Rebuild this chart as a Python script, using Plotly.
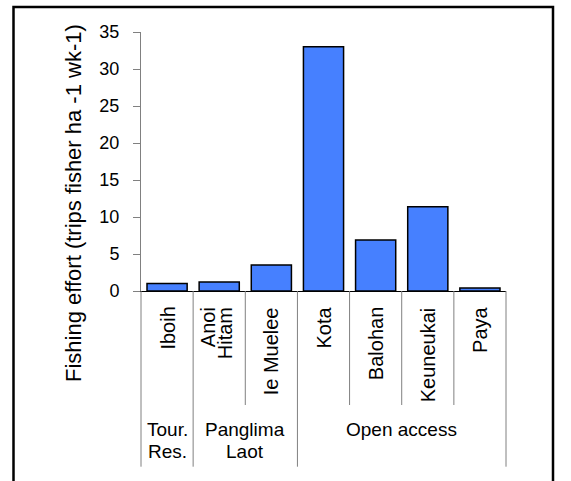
import plotly.graph_objects as go

# ---- data ----
sites = ["Iboih", "Anoi Hitam", "Ie Muelee", "Kota", "Balohan", "Keuneukai", "Paya"]
effort = [1.0, 1.2, 3.5, 33.0, 6.9, 11.4, 0.4]
site_label_lines = [["Iboih"], ["Anoi", "Hitam"], ["Ie Muelee"], ["Kota"],
                    ["Balohan"], ["Keuneukai"], ["Paya"]]
group_names = [["Tour.", "Res."], ["Panglima", "Laot"], ["Open access"]]
group_sizes = [1, 2, 4]
y_ticks = [0, 5, 10, 15, 20, 25, 30, 35]
y_title = "Fishing effort (trips fisher ha -1 wk-1)"

# ---- layout geometry (pixels) ----
W, H = 571, 481
ML, MR, MT, MB = 141, 65, 32, 190
PW = W - ML - MR
PH = H - MT - MB
FONT = "Liberation Sans, Arial, sans-serif"


def pxx(p):
    return (p - ML) / PW


def pxy(p):
    return (H - MB - p) / PH


fig = go.Figure()
fig.add_trace(go.Bar(
    x=list(range(len(sites))), y=effort,
    marker=dict(color="#4680FF", line=dict(color="black", width=1.5)),
    hoverinfo="skip", showlegend=False,
))

shapes = []
annotations = []

# category label dividers
n = len(sites)
group_bounds = [0]
for s in group_sizes:
    group_bounds.append(group_bounds[-1] + s)
for b in range(n + 1):
    is_group = b in group_bounds
    y1 = pxy(466.7) if is_group else pxy(405)
    if b == 0 or b == n:
        shapes.append(dict(type="line", xref="x domain", yref="paper",
                           x0=0 if b == 0 else 1, x1=0 if b == 0 else 1,
                           y0=0, y1=y1, line=dict(color="#808080", width=1)))
    else:
        shapes.append(dict(type="line", xref="x", yref="paper",
                           x0=b - 0.5, x1=b - 0.5, y0=0, y1=y1,
                           line=dict(color="#808080", width=1)))

# site labels (rotated)
for i, lines in enumerate(site_label_lines):
    shifts = [0] if len(lines) == 1 else [-11, 6]
    for line, sh in zip(lines, shifts):
        annotations.append(dict(
            x=i, y=pxy(305), xref="x", yref="paper", text=line,
            textangle=-90, showarrow=False, xanchor="center", yanchor="top",
            xshift=sh, font=dict(family=FONT, size=20, color="black")))

# group labels
for g, lines in enumerate(group_names):
    start, end = group_bounds[g], group_bounds[g + 1] - 1
    xc = (start + end) / 2
    for k, line in enumerate(lines):
        annotations.append(dict(
            x=xc, y=pxy(429.7 + 21.6 * k), xref="x", yref="paper", text=line,
            showarrow=False, xanchor="center", yanchor="middle",
            font=dict(family=FONT, size=19, color="black")))

# y-axis title
annotations.append(dict(
    x=pxx(73), y=pxy(203), xref="paper", yref="paper", text=y_title,
    textangle=-90, showarrow=False, xanchor="center", yanchor="middle",
    font=dict(family=FONT, size=22, color="black")))

# outer chart border
shapes.append(dict(type="rect", xref="paper", yref="paper",
                   x0=pxx(13.5), x1=pxx(553), y0=pxy(7), y1=pxy(520),
                   line=dict(color="black", width=2.5), fillcolor="rgba(0,0,0,0)"))

fig.update_layout(
    width=W, height=H,
    margin=dict(l=ML, r=MR, t=MT, b=MB, pad=0),
    paper_bgcolor="white", plot_bgcolor="white",
    bargap=0.23,
    shapes=shapes, annotations=annotations,
    font=dict(family=FONT, color="black"),
    xaxis=dict(range=[-0.5, n - 0.5], showticklabels=False, ticks="",
               showgrid=False, zeroline=False, showline=True,
               linecolor="black", linewidth=1),
    yaxis=dict(range=[0, 35], tickvals=y_ticks, ticks="outside", ticklen=7,
               tickcolor="#808080", tickwidth=1, showline=True,
               linecolor="#808080", linewidth=1, showgrid=False, zeroline=False,
               tickfont=dict(family=FONT, size=18, color="black"),
               ticklabelstandoff=10),
)

fig.write_html("out.html",
               config={"displayModeBar": False, "staticPlot": True},
               post_script="document.body.style.margin='0px';"
                           "document.body.style.overflow='hidden';")
